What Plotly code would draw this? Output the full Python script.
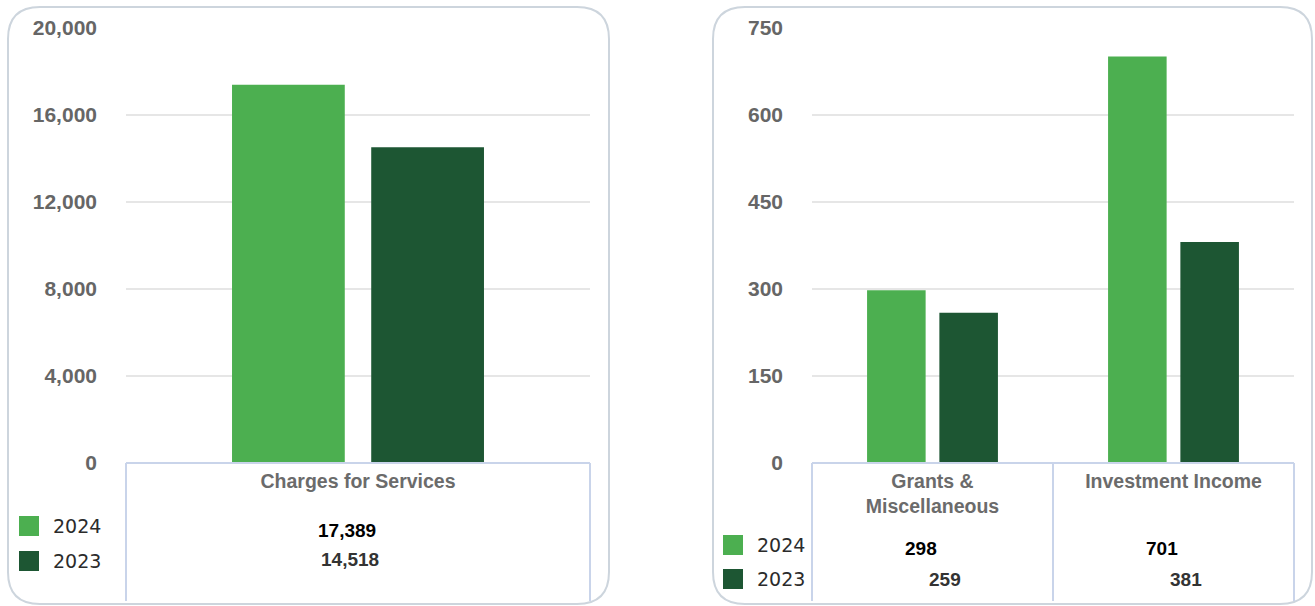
import plotly.graph_objects as go

# Canvas size in pixels (margins are zero, so paper coords map straight to pixels)
W, H = 1315, 606

years = ["2024", "2023"]
colors = ["#4caf50", "#1d5633"]

left_categories = ["Charges for Services"]
left_2024 = [17389]
left_2023 = [14518]
left_ticks = [0, 4000, 8000, 12000, 16000, 20000]

right_categories = ["Grants &<br>Miscellaneous", "Investment Income"]
right_2024 = [298, 701]
right_2023 = [259, 381]
right_ticks = [0, 150, 300, 450, 600, 750]

FONT = "Arial, Liberation Sans, sans-serif"


def px_x(x):
    return x / W


def px_y(y):
    return 1 - y / H


def rounded_box(x0, y0, x1, y1, r):
    """SVG path (paper coords) for a rounded rectangle given in pixels"""
    def p(x, y):
        return f"{px_x(x):.5f},{px_y(y):.5f}"
    return (
        f"M {p(x0 + r, y0)} L {p(x1 - r, y0)} Q {p(x1, y0)} {p(x1, y0 + r)} "
        f"L {p(x1, y1 - r)} Q {p(x1, y1)} {p(x1 - r, y1)} "
        f"L {p(x0 + r, y1)} Q {p(x0, y1)} {p(x0, y1 - r)} "
        f"L {p(x0, y0 + r)} Q {p(x0, y0)} {p(x0 + r, y0)} Z"
    )


fig = go.Figure()

# Bars
for name, vals, col in zip(years, [left_2024, left_2023], colors):
    fig.add_trace(go.Bar(x=left_categories, y=vals, name=name, marker_color=col,
                         marker_line_width=0, xaxis="x", yaxis="y",
                         showlegend=False))
for name, vals, col in zip(years, [right_2024, right_2023], colors):
    fig.add_trace(go.Bar(x=right_categories, y=vals, name=name, marker_color=col,
                         marker_line_width=0, xaxis="x2", yaxis="y2",
                         showlegend=False))

y_bottom, y_top = px_y(463), px_y(28)

yaxis_common = dict(
    domain=[y_bottom, y_top],
    automargin=False,
    showgrid=True,
    gridcolor="#e6e6e6",
    gridwidth=2,
    zeroline=False,
    showline=False,
    ticks="",
    ticklabelstandoff=28,
    tickfont=dict(family=FONT, size=21, color="#666666", weight="bold"),
    tickformat=",",
)
xaxis_common = dict(
    type="category",
    automargin=False,
    showgrid=False,
    zeroline=False,
    showline=False,
    ticks="",
    ticklabelstandoff=4,
    tickfont=dict(family=FONT, size=19.5, color="#6b6b6b", weight="bold"),
)

fig.update_layout(
    width=W,
    height=H,
    autosize=False,
    margin=dict(l=0, r=0, t=0, b=0, pad=0),
    paper_bgcolor="white",
    plot_bgcolor="white",
    barmode="group",
    bargap=0.4,
    bargroupgap=0.19,
    xaxis=dict(domain=[px_x(126), px_x(590)], anchor="y", **xaxis_common),
    yaxis=dict(anchor="x", range=[0, 20000], tickvals=left_ticks, **yaxis_common),
    xaxis2=dict(domain=[px_x(812), px_x(1294)], anchor="y2", **xaxis_common),
    yaxis2=dict(anchor="x2", range=[0, 750], tickvals=right_ticks, **yaxis_common),
)

# Panel frames
border = dict(color="#cdd5dd", width=2)
fig.add_shape(type="path", xref="paper", yref="paper",
              path=rounded_box(8, 7, 609, 604, 32), line=border, layer="below")
fig.add_shape(type="path", xref="paper", yref="paper",
              path=rounded_box(713, 7, 1312, 604, 32), line=border, layer="below")

# Data table grid under each chart
grid = dict(color="#c9d4ea", width=2)
tbl_top, tbl_bot = px_y(463), px_y(601)
for xr in ["x", "x2"]:
    fig.add_shape(type="line", xref=f"{xr} domain", yref="paper",
                  x0=0, x1=1, y0=tbl_top, y1=tbl_top, line=grid)
    for xd in [0, 1]:
        fig.add_shape(type="line", xref=f"{xr} domain", yref="paper",
                      x0=xd, x1=xd, y0=tbl_top, y1=tbl_bot, line=grid)
fig.add_shape(type="line", xref="x2", yref="paper", x0=0.5, x1=0.5,
              y0=tbl_top, y1=tbl_bot, line=grid)

# Values in the table rows
def add_values(xref, cats, vals_2024, vals_2023, y24, y23, shifts):
    for c, v in zip(cats, vals_2024):
        fig.add_annotation(xref=xref, yref="paper", x=c, y=px_y(y24),
                           yanchor="middle", text=f"<b>{v:,}</b>",
                           showarrow=False, xshift=shifts[0],
                           font=dict(family=FONT, size=19, color="#000000"))
    for c, v in zip(cats, vals_2023):
        fig.add_annotation(xref=xref, yref="paper", x=c, y=px_y(y23),
                           yanchor="middle", text=f"<b>{v:,}</b>",
                           showarrow=False, xshift=shifts[1],
                           font=dict(family=FONT, size=19, color="#333333"))


add_values("x", left_categories, left_2024, left_2023, 530, 559, (-11, -8))
add_values("x2", right_categories, right_2024, right_2023, 548, 579, (-12, 12))

# Legends drawn at the left of each table
def add_legend(x_sq, ys):
    for name, col, yc in zip(years, colors, ys):
        fig.add_shape(type="rect", xref="paper", yref="paper",
                      x0=px_x(x_sq), x1=px_x(x_sq + 20),
                      y0=px_y(yc - 10), y1=px_y(yc + 10),
                      fillcolor=col, line=dict(width=0))
        fig.add_annotation(xref="paper", yref="paper", x=px_x(x_sq + 32),
                           y=px_y(yc), xanchor="left", yanchor="middle",
                           text=name, showarrow=False,
                           font=dict(family="DejaVu Sans", size=19,
                                     color="#2b2b2b"))


add_legend(19, [526, 561])
add_legend(723, [545, 579])

fig.write_html("out.html", config={"displayModeBar": False},
               post_script="document.body.style.margin='0';")
